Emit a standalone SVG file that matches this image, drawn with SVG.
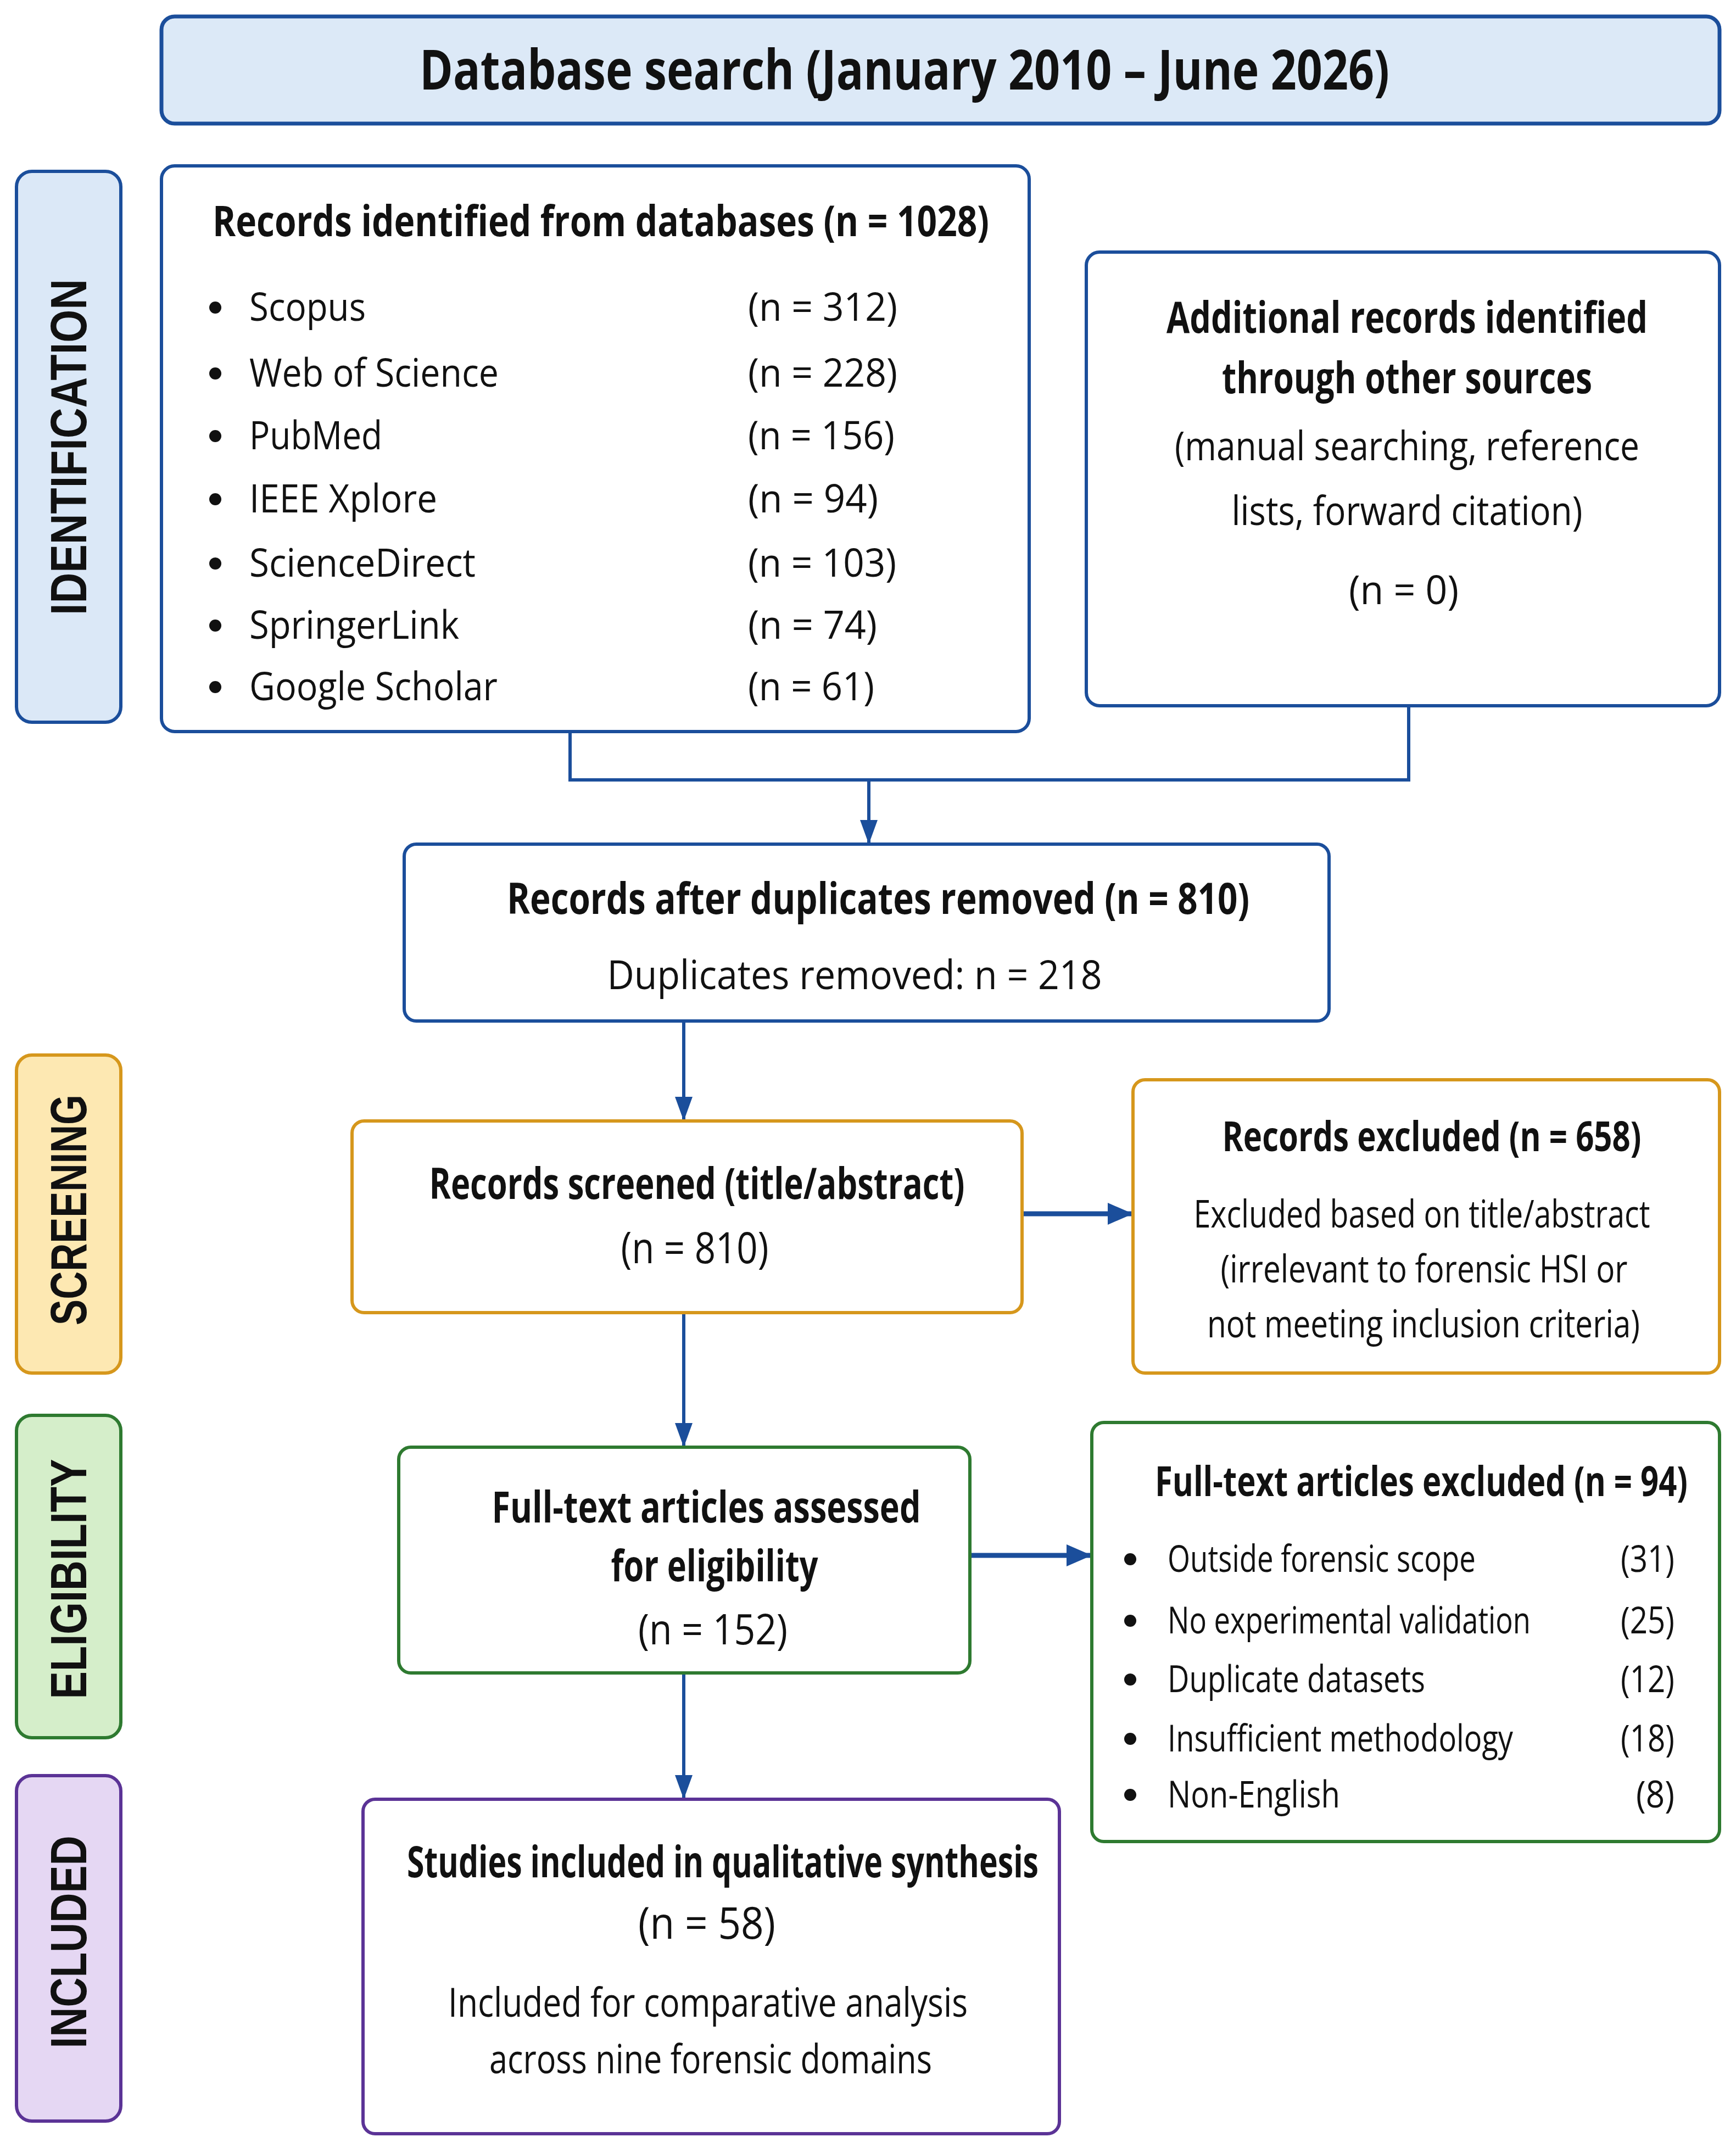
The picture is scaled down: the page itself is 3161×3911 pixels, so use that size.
<svg xmlns="http://www.w3.org/2000/svg" width="3161" height="3911" viewBox="0 0 3161 3911">
<style>
text{font-family:"Open Sans","Noto Sans","Liberation Sans",sans-serif;fill:#111;}
.b{font-weight:700;}
.c{text-anchor:middle;}
.e{text-anchor:end;}
.box{fill:#fff;stroke-width:6;}
.blue{stroke:#1b4e9b;}
.orange{stroke:#d6971c;}
.green{stroke:#2e7a30;}
.purple{stroke:#5b3396;}
.side{font-family:"Liberation Sans","DejaVu Sans",sans-serif;font-weight:700;font-size:84px;text-anchor:middle;}
.conn{fill:none;stroke:#1b4e9b;stroke-width:6;}
.thick{stroke-width:9;}
.dot{fill:#111;}
</style>
<defs>
<marker id="ah" markerUnits="userSpaceOnUse" markerWidth="44" markerHeight="32" refX="44" refY="16" orient="auto">
<path d="M0,0 L44,16 L0,32 z" fill="#1b4e9b"/>
</marker>
<marker id="ah2" markerUnits="userSpaceOnUse" markerWidth="46" markerHeight="40" refX="46" refY="20" orient="auto">
<path d="M0,0 L46,20 L0,40 z" fill="#1b4e9b"/>
</marker>
</defs>

<g id="connectors">
<path class="conn" d="M1038,1332 V1420 H2565 V1285"/>
<path class="conn" d="M1582,1420 V1537" marker-end="url(#ah)"/>
<path class="conn" d="M1245,1859 V2041" marker-end="url(#ah)"/>
<path class="conn thick" d="M1861,2210 H2063" marker-end="url(#ah2)"/>
<path class="conn" d="M1245,2390 V2635" marker-end="url(#ah)"/>
<path class="conn thick" d="M1766,2832 H1988" marker-end="url(#ah2)"/>
<path class="conn" d="M1245,3046 V3276" marker-end="url(#ah)"/>
</g>

<g id="top">
<rect x="294" y="30" width="2837" height="195" rx="24" fill="#dce9f7" stroke="#1b4e9b" stroke-width="7"/>
<text class="b c" transform="translate(1647,163) scale(1,1.25)" font-size="80" textLength="1766" lengthAdjust="spacingAndGlyphs">Database search (January 2010 – June 2026)</text>
</g>

<g id="label-identification">
<rect x="30" y="312" width="190" height="1003" rx="28" fill="#dbe8f7" stroke="#1b4e9b" stroke-width="6"/>
<text class="side" transform="translate(157,814) rotate(-90) scale(1,1.1)" textLength="612" lengthAdjust="spacingAndGlyphs">IDENTIFICATION</text>
</g>
<g id="label-screening">
<rect x="30" y="1921" width="190" height="579" rx="28" fill="#fde8b2" stroke="#d6971c" stroke-width="6"/>
<text class="side" transform="translate(157,2203) rotate(-90) scale(1,1.1)" textLength="420" lengthAdjust="spacingAndGlyphs">SCREENING</text>
</g>
<g id="label-eligibility">
<rect x="30" y="2577" width="190" height="587" rx="28" fill="#d5eeca" stroke="#2e7a30" stroke-width="6"/>
<text class="side" transform="translate(157,2875) rotate(-90) scale(1,1.1)" textLength="437" lengthAdjust="spacingAndGlyphs">ELIGIBILITY</text>
</g>
<g id="label-included">
<rect x="30" y="3233" width="190" height="629" rx="28" fill="#e5d7f3" stroke="#5b3396" stroke-width="6"/>
<text class="side" transform="translate(157,3536) rotate(-90) scale(1,1.1)" textLength="387" lengthAdjust="spacingAndGlyphs">INCLUDED</text>
</g>

<g id="records-identified">
<rect class="box blue" x="294" y="302" width="1580" height="1030" rx="24"/>
<text class="b" transform="translate(387,430) scale(1,1.25)" font-size="62" textLength="1414" lengthAdjust="spacingAndGlyphs">Records identified from databases (n = 1028)</text>
<g font-size="63">
<circle class="dot" cx="392" cy="560" r="11"/><text transform="translate(454,584) scale(1,1.143)" textLength="212" lengthAdjust="spacingAndGlyphs">Scopus</text><text transform="translate(1362,584) scale(1,1.143)" textLength="272" lengthAdjust="spacingAndGlyphs">(n = 312)</text>
<circle class="dot" cx="392" cy="680" r="11"/><text transform="translate(454,704) scale(1,1.143)" textLength="454" lengthAdjust="spacingAndGlyphs">Web of Science</text><text transform="translate(1362,704) scale(1,1.143)" textLength="272" lengthAdjust="spacingAndGlyphs">(n = 228)</text>
<circle class="dot" cx="392" cy="794" r="11"/><text transform="translate(454,818) scale(1,1.143)" textLength="242" lengthAdjust="spacingAndGlyphs">PubMed</text><text transform="translate(1362,818) scale(1,1.143)" textLength="267" lengthAdjust="spacingAndGlyphs">(n = 156)</text>
<circle class="dot" cx="392" cy="909" r="11"/><text transform="translate(454,933) scale(1,1.143)" textLength="342" lengthAdjust="spacingAndGlyphs">IEEE Xplore</text><text transform="translate(1362,933) scale(1,1.143)" textLength="237" lengthAdjust="spacingAndGlyphs">(n = 94)</text>
<circle class="dot" cx="392" cy="1026" r="11"/><text transform="translate(454,1050) scale(1,1.143)" textLength="412" lengthAdjust="spacingAndGlyphs">ScienceDirect</text><text transform="translate(1362,1050) scale(1,1.143)" textLength="270" lengthAdjust="spacingAndGlyphs">(n = 103)</text>
<circle class="dot" cx="392" cy="1139" r="11"/><text transform="translate(454,1163) scale(1,1.143)" textLength="382" lengthAdjust="spacingAndGlyphs">SpringerLink</text><text transform="translate(1362,1163) scale(1,1.143)" textLength="235" lengthAdjust="spacingAndGlyphs">(n = 74)</text>
<circle class="dot" cx="392" cy="1251" r="11"/><text transform="translate(454,1275) scale(1,1.143)" textLength="452" lengthAdjust="spacingAndGlyphs">Google Scholar</text><text transform="translate(1362,1275) scale(1,1.143)" textLength="230" lengthAdjust="spacingAndGlyphs">(n = 61)</text>
</g>
</g>

<g id="additional-records">
<rect class="box blue" x="1978" y="459" width="1153" height="826" rx="24"/>
<text class="b c" transform="translate(2562,606) scale(1,1.258)" font-size="62" textLength="876" lengthAdjust="spacingAndGlyphs">Additional records identified</text>
<text class="b c" transform="translate(2562,716) scale(1,1.258)" font-size="62" textLength="674" lengthAdjust="spacingAndGlyphs">through other sources</text>
<text class="c" transform="translate(2562,838) scale(1,1.138)" font-size="65" textLength="846" lengthAdjust="spacingAndGlyphs">(manual searching, reference</text>
<text class="c" transform="translate(2562,956) scale(1,1.138)" font-size="65" textLength="639" lengthAdjust="spacingAndGlyphs">lists, forward citation)</text>
<text class="c" transform="translate(2556,1100) scale(1,1.138)" font-size="65" textLength="200" lengthAdjust="spacingAndGlyphs">(n = 0)</text>
</g>

<g id="after-duplicates">
<rect class="box blue" x="736" y="1537" width="1684" height="322" rx="22"/>
<text class="b c" transform="translate(1599,1664) scale(1,1.258)" font-size="62" textLength="1352" lengthAdjust="spacingAndGlyphs">Records after duplicates removed (n = 810)</text>
<text class="c" transform="translate(1556,1801) scale(1,1.138)" font-size="65" textLength="901" lengthAdjust="spacingAndGlyphs">Duplicates removed: n = 218</text>
</g>

<g id="screened">
<rect class="box orange" x="641" y="2041" width="1220" height="349" rx="22"/>
<text class="b c" transform="translate(1269,2183) scale(1,1.258)" font-size="62" textLength="975" lengthAdjust="spacingAndGlyphs">Records screened (title/abstract)</text>
<text class="c" transform="translate(1265,2300) scale(1,1.13)" font-size="69" textLength="269" lengthAdjust="spacingAndGlyphs">(n = 810)</text>
</g>

<g id="records-excluded">
<rect class="box orange" x="2063" y="1966" width="1068" height="534" rx="22"/>
<text class="b c" transform="translate(2607,2096) scale(1,1.246)" font-size="61" textLength="763" lengthAdjust="spacingAndGlyphs">Records excluded (n = 658)</text>
<text class="c" transform="translate(2589,2235) scale(1,1.13)" font-size="62" textLength="831" lengthAdjust="spacingAndGlyphs">Excluded based on title/abstract</text>
<text class="c" transform="translate(2593,2335) scale(1,1.13)" font-size="62" textLength="741" lengthAdjust="spacingAndGlyphs">(irrelevant to forensic HSI or</text>
<text class="c" transform="translate(2592,2435) scale(1,1.13)" font-size="62" textLength="788" lengthAdjust="spacingAndGlyphs">not meeting inclusion criteria)</text>
</g>

<g id="fulltext-assessed">
<rect class="box green" x="726" y="2635" width="1040" height="411" rx="22"/>
<text class="b c" transform="translate(1286,2772) scale(1,1.258)" font-size="62" textLength="781" lengthAdjust="spacingAndGlyphs">Full-text articles assessed</text>
<text class="b c" transform="translate(1301,2879) scale(1,1.258)" font-size="62" textLength="377" lengthAdjust="spacingAndGlyphs">for eligibility</text>
<text class="c" transform="translate(1298,2994) scale(1,1.134)" font-size="67" textLength="272" lengthAdjust="spacingAndGlyphs">(n = 152)</text>
</g>

<g id="fulltext-excluded">
<rect class="box green" x="1988" y="2590" width="1143" height="763" rx="22"/>
<text class="b" transform="translate(2103,2724) scale(1,1.246)" font-size="61" textLength="970" lengthAdjust="spacingAndGlyphs">Full-text articles excluded (n = 94)</text>
<g font-size="60">
<circle class="dot" cx="2058" cy="2839" r="11"/><text transform="translate(2126,2862) scale(1,1.133)" textLength="561" lengthAdjust="spacingAndGlyphs">Outside forensic scope</text><text class="e" transform="translate(3049,2862) scale(1,1.133)" textLength="98" lengthAdjust="spacingAndGlyphs">(31)</text>
<circle class="dot" cx="2058" cy="2951" r="11"/><text transform="translate(2126,2974) scale(1,1.133)" textLength="661" lengthAdjust="spacingAndGlyphs">No experimental validation</text><text class="e" transform="translate(3049,2974) scale(1,1.133)" textLength="98" lengthAdjust="spacingAndGlyphs">(25)</text>
<circle class="dot" cx="2058" cy="3058" r="11"/><text transform="translate(2126,3081) scale(1,1.133)" textLength="469" lengthAdjust="spacingAndGlyphs">Duplicate datasets</text><text class="e" transform="translate(3049,3081) scale(1,1.133)" textLength="98" lengthAdjust="spacingAndGlyphs">(12)</text>
<circle class="dot" cx="2058" cy="3166" r="11"/><text transform="translate(2126,3189) scale(1,1.133)" textLength="629" lengthAdjust="spacingAndGlyphs">Insufficient methodology</text><text class="e" transform="translate(3049,3189) scale(1,1.133)" textLength="98" lengthAdjust="spacingAndGlyphs">(18)</text>
<circle class="dot" cx="2058" cy="3268" r="11"/><text transform="translate(2126,3291) scale(1,1.133)" textLength="314" lengthAdjust="spacingAndGlyphs">Non-English</text><text class="e" transform="translate(3049,3291) scale(1,1.133)" textLength="70" lengthAdjust="spacingAndGlyphs">(8)</text>
</g>
</g>

<g id="included">
<rect class="box purple" x="661" y="3276" width="1268" height="609" rx="22"/>
<text class="b c" transform="translate(1316,3418) scale(1,1.258)" font-size="62" textLength="1150" lengthAdjust="spacingAndGlyphs">Studies included in qualitative synthesis</text>
<text class="c" transform="translate(1287,3530) scale(1,1.143)" font-size="70" textLength="250" lengthAdjust="spacingAndGlyphs">(n = 58)</text>
<text class="c" transform="translate(1289,3672) scale(1,1.138)" font-size="65" textLength="946" lengthAdjust="spacingAndGlyphs">Included for comparative analysis</text>
<text class="c" transform="translate(1294,3775) scale(1,1.138)" font-size="65" textLength="806" lengthAdjust="spacingAndGlyphs">across nine forensic domains</text>
</g>
</svg>
